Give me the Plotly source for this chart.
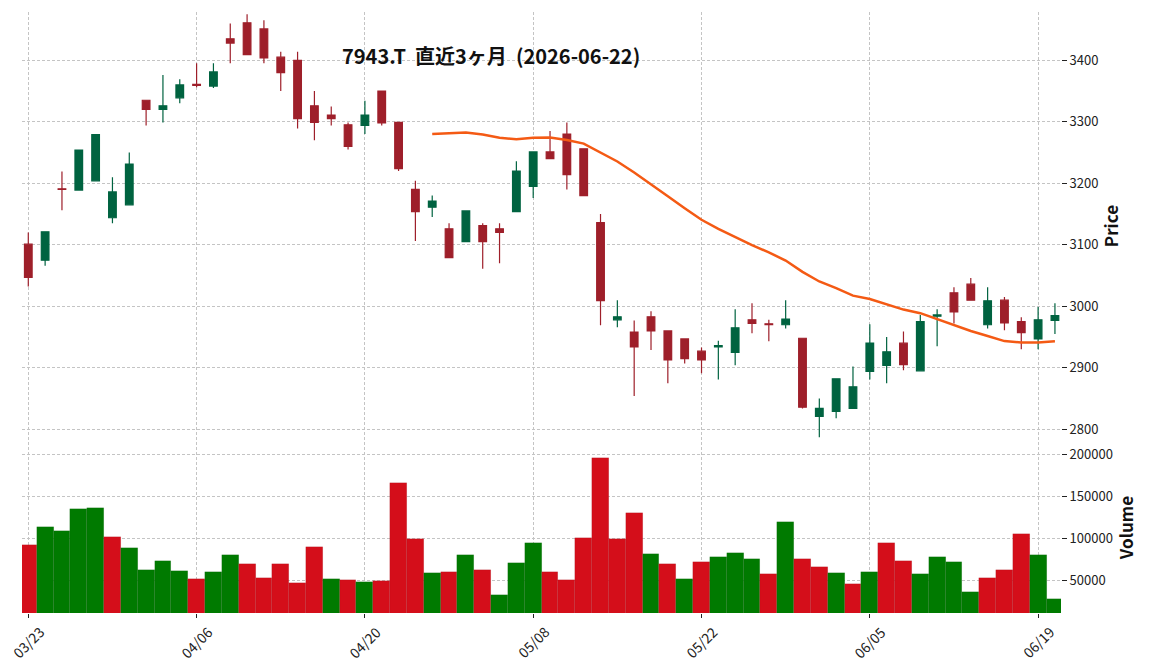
import plotly.graph_objects as go
import pandas as pd

dates = ["2026-03-23","2026-03-24","2026-03-25","2026-03-26","2026-03-27","2026-03-30","2026-03-31",
         "2026-04-01","2026-04-02","2026-04-03","2026-04-06","2026-04-07","2026-04-08","2026-04-09","2026-04-10",
         "2026-04-13","2026-04-14","2026-04-15","2026-04-16","2026-04-17","2026-04-20","2026-04-21","2026-04-22",
         "2026-04-23","2026-04-24","2026-04-27","2026-04-28","2026-04-30","2026-05-01","2026-05-07","2026-05-08",
         "2026-05-11","2026-05-12","2026-05-13","2026-05-14","2026-05-15","2026-05-18","2026-05-19","2026-05-20",
         "2026-05-21","2026-05-22","2026-05-25","2026-05-26","2026-05-27","2026-05-28","2026-05-29","2026-06-01",
         "2026-06-02","2026-06-03","2026-06-04","2026-06-05","2026-06-08","2026-06-09","2026-06-10","2026-06-11",
         "2026-06-12","2026-06-15","2026-06-16","2026-06-17","2026-06-18","2026-06-19","2026-06-22"]

opens = [3101, 3075, 3191, 3189, 3204, 3144, 3165, 3335, 3320, 3339,
         3361, 3358, 3435, 3461, 3451, 3405, 3400, 3326, 3311, 3295,
         3294, 3350, 3299, 3190, 3161, 3126, 3105, 3131, 3126, 3154,
         3195, 3251, 3280, 3256, 3136, 2978, 2958, 2983, 2960, 2947,
         2927, 2934, 2925, 2978, 2971.5, 2970, 2948, 2821, 2829, 2834,
         2894, 2904, 2940, 2895, 2984, 3022, 3036, 2970, 3010, 2975,
         2947, 2977]
highs = [3120, 3121, 3219, 3254, 3279, 3210, 3250, 3335, 3376, 3369,
         3395, 3395, 3460, 3475, 3465, 3414, 3414, 3350, 3325, 3299,
         3334, 3350, 3299, 3204, 3180, 3135, 3155, 3135, 3135, 3236,
         3251, 3285, 3299, 3256, 3150, 3010, 2977, 2992, 2960, 2947,
         2933, 2944, 2995, 3005, 2978, 3010, 2948, 2850, 2882, 2902,
         2971, 2950, 2959, 2986, 2995, 3031, 3046, 3031, 3015, 2982,
         2999, 3005]
lows = [3032, 3066, 3156, 3189, 3204, 3135, 3165, 3294, 3299, 3330,
        3356, 3355, 3395, 3409, 3395, 3350, 3289, 3270, 3294, 3255,
        3280, 3294, 3220, 3106, 3145, 3079, 3105, 3061, 3070, 3154,
        3176, 3240, 3190, 3180, 2969, 2966, 2854, 2929, 2875, 2907,
        2891, 2881, 2904, 2956, 2943, 2964, 2834, 2787, 2818, 2834,
        2881, 2875, 2896, 2895, 2935, 2972, 3010, 2964, 2961, 2930,
        2930, 2955]
closes = [3047, 3121, 3190, 3254, 3279, 3186, 3231, 3320, 3326, 3360,
          3359, 3381, 3428, 3409, 3404, 3380, 3305, 3299, 3305, 3260,
          3311, 3298, 3224, 3154, 3171, 3079, 3155, 3105, 3120, 3220,
          3251, 3240, 3214, 3180, 3009, 2983, 2934, 2960, 2913, 2915,
          2913, 2936, 2965, 2972, 2970, 2979, 2836, 2834, 2882, 2869,
          2940, 2926, 2905, 2975, 2986, 2991, 3010, 3009, 2973, 2957,
          2978, 2985]
volumes = [91900, 113400, 108600, 134900, 136100, 101400, 88300, 62000, 72700, 60800,
           51200, 59600, 79900, 69100, 52400, 69100, 46400, 89500, 51200, 50000,
           47600, 48800, 166000, 99000, 58400, 59600, 79900, 62000, 32100, 70300,
           94300, 59600, 50000, 100200, 195900, 99000, 130100, 81100, 69100, 51200,
           71500, 77500, 82300, 75100, 57200, 119400, 75100, 65500, 58400, 45200,
           59600, 94300, 72700, 57200, 77500, 71500, 35600, 52400, 62000, 105000,
           79900, 27300]

tick_idx = [0, 10, 20, 30, 40, 50, 60]
tick_labels = ["03/23", "04/06", "04/20", "05/08", "05/22", "06/05", "06/19"]
price_ticks = [2800, 2900, 3000, 3100, 3200, 3300, 3400]
volume_ticks = [50000, 100000, 150000, 200000]
title_text = "7943.T  直近3ヶ月  (2026-06-22)"

UP_C = "#006340"
DN_C = "#9e1f2a"
VUP_C = "#007a00"
VDN_C = "#d40e1a"
MA_C = "#f45a14"
GRID_C = "#c4c4c4"
FONT = "Noto Sans CJK JP"

x = list(range(len(dates)))
ma25 = pd.Series(closes).rolling(25).mean()
vol_colors = [VDN_C] + [VUP_C if closes[i] >= closes[i - 1] else VDN_C for i in range(1, len(closes))]

fig = go.Figure()
fig.add_trace(go.Candlestick(
    x=x, open=opens, high=highs, low=lows, close=closes,
    increasing=dict(line=dict(color=UP_C, width=1.2), fillcolor=UP_C),
    decreasing=dict(line=dict(color=DN_C, width=1.2), fillcolor=DN_C),
    whiskerwidth=0, xaxis="x", yaxis="y", hoverinfo="skip", showlegend=False))
fig.add_trace(go.Scatter(
    x=x, y=ma25, mode="lines", line=dict(color=MA_C, width=2.5),
    xaxis="x", yaxis="y", hoverinfo="skip", showlegend=False))
fig.add_trace(go.Bar(
    x=x, y=volumes, marker=dict(color=vol_colors, line=dict(width=0.5, color="rgba(0,0,0,0.12)")),
    width=1.0, xaxis="x2", yaxis="y2", hoverinfo="skip", showlegend=False))

W, H = 1152, 670
L, R, T, B = 22, 91, 12, 57
ph = H - T - B
price_bottom = (H - B - 440) / ph
vol_top = (H - B - 442) / ph

xr = [-0.374, 61.36]
axis_font = dict(family=FONT, size=13, color="#222222")
grid = dict(showgrid=True, gridcolor=GRID_C, gridwidth=0.8, griddash="3px,2px", zeroline=False,
            showline=False, automargin=False)

# rotated date labels centred under each tick (matplotlib style)
date_annots = [dict(text=lbl, x=xi, y=(H - B - 642) / ph, xref="x2", yref="paper",
                    xanchor="center", yanchor="middle", textangle=-45, showarrow=False,
                    font=dict(family=FONT, size=14, color="#222222"))
               for xi, lbl in zip(tick_idx, tick_labels)]

fig.update_layout(
    width=W, height=H,
    margin=dict(l=L, r=R, t=T, b=B, autoexpand=False),
    paper_bgcolor="white", plot_bgcolor="white",
    font=dict(family=FONT, size=13, color="#222222"),
    showlegend=False, bargap=0, boxgap=0.35,
    xaxis=dict(domain=[0, 1], anchor="y", range=xr, tickvals=tick_idx, showticklabels=False,
               ticks="", rangeslider=dict(visible=False), **grid),
    xaxis2=dict(domain=[0, 1], anchor="y2", range=xr, tickvals=tick_idx, showticklabels=False,
                ticks="outside", ticklen=4, tickcolor="#222222", **grid),
    yaxis=dict(domain=[price_bottom, 1], anchor="x", side="right", range=[2782.6, 3478.5],
               tickvals=price_ticks, ticks="outside", ticklen=5, tickcolor="#222222",
               tickfont=axis_font,
               title=dict(text="Price", font=dict(family=FONT, size=17, color="#111111", weight=700), standoff=8),
               **grid),
    yaxis2=dict(domain=[0, vol_top], anchor="x2", side="right", range=[10980, 214700],
                tickvals=volume_ticks, tickformat="d", ticks="outside", ticklen=5, tickcolor="#222222",
                tickfont=axis_font,
                title=dict(text="Volume", font=dict(family=FONT, size=17, color="#111111", weight=700), standoff=6),
                **grid),
    annotations=[dict(text=title_text, x=(491 - L) / (W - L - R), y=(H - B - 55) / ph,
                      xref="paper", yref="paper", xanchor="center", yanchor="middle", showarrow=False,
                      font=dict(family=FONT, size=20, color="#111111", weight=700))] + date_annots,
)

fig.write_html("out.html")
